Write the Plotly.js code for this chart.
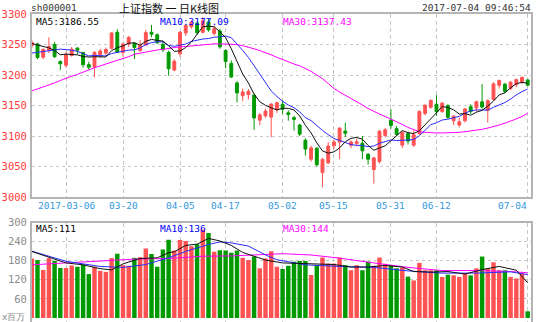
<!DOCTYPE html>
<html>
<head>
<meta charset="utf-8">
<script src="https://cdn.plot.ly/plotly-3.0.1.min.js"></script>
<style>
html,body{margin:0;padding:0;background:#fff;}
#chart{width:549px;height:322px;}
</style>
</head>
<body>
<div id="chart"></div>
<script>
// ---------------- data ----------------
const dates = [
 "2017-02-24","2017-02-27","2017-02-28","2017-03-01","2017-03-02","2017-03-03",
 "2017-03-06","2017-03-07","2017-03-08","2017-03-09","2017-03-10",
 "2017-03-13","2017-03-14","2017-03-15","2017-03-16","2017-03-17",
 "2017-03-20","2017-03-21","2017-03-22","2017-03-23","2017-03-24",
 "2017-03-27","2017-03-28","2017-03-29","2017-03-30","2017-03-31",
 "2017-04-05","2017-04-06","2017-04-07",
 "2017-04-10","2017-04-11","2017-04-12","2017-04-13","2017-04-14",
 "2017-04-17","2017-04-18","2017-04-19","2017-04-20","2017-04-21",
 "2017-04-24","2017-04-25","2017-04-26","2017-04-27","2017-04-28",
 "2017-05-02","2017-05-03","2017-05-04","2017-05-05",
 "2017-05-08","2017-05-09","2017-05-10","2017-05-11","2017-05-12",
 "2017-05-15","2017-05-16","2017-05-17","2017-05-18","2017-05-19",
 "2017-05-22","2017-05-23","2017-05-24","2017-05-25","2017-05-26",
 "2017-05-31","2017-06-01","2017-06-02",
 "2017-06-05","2017-06-06","2017-06-07","2017-06-08","2017-06-09",
 "2017-06-12","2017-06-13","2017-06-14","2017-06-15","2017-06-16",
 "2017-06-19","2017-06-20","2017-06-21","2017-06-22","2017-06-23",
 "2017-06-26","2017-06-27","2017-06-28","2017-06-29","2017-06-30",
 "2017-07-03","2017-07-04"
];
const openP = [3248,3251,3229,3240,3250,3222,
 3216,3232,3244,3237,3217, 3213,3233,3236,3244,3270, 3237,3251,3252,3240,3249,
 3270,3266,3250,3237,3208, 3235,3269,3279, 3285,3270,3287,3268,3272,
 3240,3219,3187,3166,3168, 3167,3126,3133,3131,3143, 3152,3138,3130,3118,
 3093,3062,3080,3040,3056, 3084,3090,3108,3085,3088, 3088,3070,3045,3058,3101,
 3126,3112,3085, 3104,3085,3104,3137,3147, 3152,3140,3150,3125,3118,
 3125,3148,3146,3156,3142, 3160,3183,3185,3178,3184, 3189,3192];
const highP = [3258,3253,3244,3262,3254,3224,
 3238,3246,3246,3238,3222, 3239,3243,3245,3270,3275, 3253,3264,3254,3257,3274,
 3282,3268,3256,3240,3226, 3272,3284,3290, 3288,3295,3292,3281,3276,
 3242,3224,3190,3178,3177, 3169,3138,3145,3154,3156, 3158,3142,3133,3120,
 3096,3084,3082,3064,3090, 3094,3114,3122,3093,3096, 3100,3072,3066,3110,3113,
 3144,3116,3108, 3106,3109,3142,3152,3160, 3167,3156,3152,3134,3130,
 3146,3152,3158,3185,3160, 3188,3192,3187,3190,3194, 3198,3193];
const lowP = [3244,3226,3226,3236,3228,3208,
 3212,3230,3234,3212,3208, 3196,3228,3232,3242,3236, 3230,3246,3226,3238,3248,
 3262,3251,3238,3199,3206, 3230,3264,3276, 3266,3268,3271,3265,3243,
 3211,3195,3155,3157,3160, 3110,3118,3130,3098,3138, 3136,3125,3109,3100,
 3068,3058,3050,3016,3054, 3079,3062,3098,3080,3083, 3062,3053,3022,3055,3098,
 3112,3100,3080, 3086,3082,3102,3134,3145, 3133,3138,3128,3118,3114,
 3122,3136,3140,3145,3122, 3158,3178,3170,3175,3180, 3185,3182];
const closeP = [3253.43,3228.66,3241.73,3246.93,3230.03,3218.31,
 3233.87,3242.41,3240.66,3216.75,3212.76, 3237.02,3239.33,3241.76,3268.94,3237.45,
 3250.81,3261.61,3245.22,3248.55,3269.45, 3266.96,3252.95,3241.31,3210.24,3222.51,
 3270.05,3281.00,3286.62, 3269.39,3288.97,3273.83,3275.96,3246.07,
 3222.17,3196.71,3170.69,3172.17,3173.15, 3129.53,3134.57,3140.85,3152.19,3154.66,
 3143.71,3135.35,3127.37,3103.04, 3078.61,3080.53,3052.79,3061.50,3083.51,
 3090.23,3112.96,3104.44,3090.14,3090.63, 3075.68,3061.95,3064.08,3107.83,3110.06,
 3117.18,3102.62,3105.54, 3091.66,3102.10,3140.32,3150.33,3158.40,
 3139.88,3153.74,3130.67,3132.49,3123.17, 3144.37,3140.01,3156.21,3147.45,3157.87,
 3185.44,3191.20,3173.20,3188.06,3192.43, 3195.91,3183.15];

const ma5 = [3251.6,3249.4,3247.2,3244.4,3240.2,3233.2,
 3234.2,3234.2,3233.0,3230.4,3229.4, 3230.0,3229.4,3229.6,3240.0,3244.8,
 3247.6,3252.2,3252.8,3248.8,3255.2, 3258.4,3256.6,3255.8,3248.0,3238.8,
 3239.4,3245.0,3254.2, 3266.0,3279.2,3280.0,3279.0,3270.8,
 3261.4,3243.0,3222.4,3201.6,3187.0, 3168.6,3156.2,3150.2,3146.2,3142.6,
 3145.4,3145.4,3142.6,3132.8, 3117.6,3105.0,3088.6,3075.6,3071.8,
 3074.0,3080.4,3090.6,3096.2,3097.6, 3094.8,3084.6,3076.6,3080.2,3084.0,
 3092.2,3100.4,3108.8, 3105.6,3104.0,3108.6,3118.0,3128.4,
 3138.0,3148.4,3146.6,3143.0,3136.0, 3136.8,3134.0,3139.0,3142.0,3149.0,
 3157.2,3167.4,3170.8,3179.0,3185.8, 3188.0,3186.55];
const ma10 = [3236,3237,3238,3240,3241,3242.4,
 3241.8,3240.7,3238.7,3235.3,3231.3, 3232.1,3231.8,3231.3,3235.2,3237.1,
 3238.8,3240.8,3241.2,3244.4,3250.0, 3253.0,3254.4,3254.3,3248.4,3247.0,
 3248.9,3250.8,3255.0, 3257.0,3259.0,3259.7,3262.0,3262.5,
 3263.7,3261.1,3251.2,3240.3,3228.9, 3215.0,3199.6,3186.3,3173.9,3164.8,
 3157.0,3150.8,3146.4,3139.5, 3130.1,3125.2,3117.0,3109.1,3102.3,
 3095.8,3092.7,3089.6,3085.9,3084.7, 3084.4,3082.5,3083.6,3088.2,3090.8,
 3093.5,3092.5,3092.7, 3092.9,3094.0,3100.4,3109.2,3118.6,
 3121.8,3126.2,3127.6,3130.5,3132.2, 3137.4,3141.2,3142.8,3142.5,3142.5,
 3147.0,3150.7,3154.9,3160.5,3167.4, 3172.6,3177.09];
const ma30 = [3174,3177,3180,3184,3187,3191,
 3195,3198,3201,3205,3208, 3212,3215,3218,3220,3223,
 3226,3230,3234,3236,3238, 3240,3241,3242,3244,3245,
 3246,3247,3248, 3249,3250,3251,3251,3251,
 3251,3251,3250,3248,3246, 3243,3240,3237,3233,3229,
 3225,3222,3218,3215, 3211,3206,3200,3194,3186,
 3178,3172,3167,3162,3157, 3151,3145,3140,3136,3132,
 3128,3124,3119, 3114,3110,3107,3106,3105,
 3105,3105,3105,3106,3106, 3107,3108,3109,3111,3113,
 3115,3118,3121,3124,3128, 3132,3137.43];

const volume = [187,182,151,188,180,157,
 157,165,161,168,138, 161,148,145,188,202, 166,164,189,191,218,
 201,161,215,246,212, 245,242,225, 232,278,267,208,213,
 212,205,212,189,182, 193,156,187,210,161, 154,164,177,179,
 179,135,166,190,171, 171,190,166,150,166, 150,177,164,190,170,
 166,156,158, 130,118,173,150,150, 150,129,136,134,129,
 140,134,156,193,156, 175,150,150,129,124, 140,21];

const volMa5Dates = ["2017-02-24","2017-03-01","2017-03-06","2017-03-09","2017-03-14","2017-03-16",
 "2017-03-20","2017-03-23","2017-03-28","2017-03-30","2017-03-31","2017-04-06","2017-04-10",
 "2017-04-12","2017-04-14","2017-04-18","2017-04-20","2017-04-24","2017-04-26","2017-05-02",
 "2017-05-05","2017-05-10","2017-05-15","2017-05-18","2017-05-23","2017-05-26","2017-06-02",
 "2017-06-06","2017-06-09","2017-06-14","2017-06-19","2017-06-22","2017-06-27","2017-06-30","2017-07-04"];
const volMa5 = [209,190,173,167,155,151,170,187,189,205,208,228,232,250,242,228,206,194,182,173,
 172,170,168,160,160,165,160,146,144,146,138,152,162,150,111];
const volMa10Dates = ["2017-02-24","2017-03-06","2017-03-14","2017-03-20","2017-03-24","2017-03-30",
 "2017-04-06","2017-04-12","2017-04-14","2017-04-18","2017-04-21","2017-04-26","2017-04-28",
 "2017-05-08","2017-05-16","2017-05-24","2017-06-05","2017-06-13","2017-06-21","2017-06-29","2017-07-04"];
const volMa10 = [210,178,162,159,168,189,209,231,239,236,226,198,183,167,162,159,148,141,141,145,136];
const volMa30Dates = ["2017-02-24","2017-03-06","2017-03-14","2017-03-22","2017-03-30","2017-04-11",
 "2017-04-18","2017-04-25","2017-05-02","2017-05-09","2017-05-16","2017-05-24","2017-06-05",
 "2017-06-13","2017-06-21","2017-06-29","2017-07-04"];
const volMa30 = [167,173,178,185,187,194,195,199,202,198,188,173,159,149,149,146,142];

const tickDates = ["2017-03-06","2017-03-20","2017-04-05","2017-04-17","2017-05-02","2017-05-15","2017-05-31","2017-06-12","2017-07-04"];
const tickLabels = ["2017-03-06","03-20","04-05","04-17","05-02","05-15","05-31","06-12","07-04"];
const priceTicks = [3000,3050,3100,3150,3200,3250,3300];
const volTicks = [60,120,180,240,300];

const headerCode = "sh000001";
const headerTitle = "上证指数 一 日K线图";
const headerTime = "2017-07-04 09:46:54";
const priceLegend = ["MA5:3186.55","MA10:3177.09","MA30:3137.43"];
const volLegend = ["MA5:111","MA10:136","MA30:144"];
const volUnit = "x百万";

// ---------------- drawing ----------------
const W = 549, H = 322;
const px = x => x / W;
const py = y => 1 - y / H;
const RED = '#ff5252', GREEN = '#009a00';
const MONO = 'DejaVu Sans Mono, Liberation Mono, monospace';
const xr = [0.035, 87.58];

const barColors = closeP.map((c, i) => c >= openP[i] ? RED : GREEN);

const traces = [
 {type:'candlestick', x:dates, open:openP, high:highP, low:lowP, close:closeP,
  xaxis:'x', yaxis:'y', whiskerwidth:0, hoverinfo:'skip',
  increasing:{line:{color:RED, width:1}, fillcolor:RED},
  decreasing:{line:{color:GREEN, width:1}, fillcolor:GREEN}},
 {type:'scatter', mode:'lines', x:dates, y:ma30, xaxis:'x', yaxis:'y', line:{color:'#ff00ff', width:1}, hoverinfo:'skip'},
 {type:'scatter', mode:'lines', x:dates, y:ma10, xaxis:'x', yaxis:'y', line:{color:'#2b2bff', width:1}, hoverinfo:'skip'},
 {type:'scatter', mode:'lines', x:dates, y:ma5, xaxis:'x', yaxis:'y', line:{color:'#111111', width:1}, hoverinfo:'skip'},
 {type:'bar', x:dates, y:volume, xaxis:'x2', yaxis:'y2', marker:{color:barColors, line:{width:0}}, hoverinfo:'skip'},
 {type:'scatter', mode:'lines', x:volMa30Dates, y:volMa30, xaxis:'x2', yaxis:'y2', line:{color:'#ff00ff', width:1}, hoverinfo:'skip'},
 {type:'scatter', mode:'lines', x:volMa10Dates, y:volMa10, xaxis:'x2', yaxis:'y2', line:{color:'#2b2bff', width:1}, hoverinfo:'skip'},
 {type:'scatter', mode:'lines', x:volMa5Dates, y:volMa5, xaxis:'x2', yaxis:'y2', line:{color:'#111111', width:1}, hoverinfo:'skip'}
];

const xBase = {type:'category', categoryorder:'array', categoryarray:dates, range:xr,
  tickmode:'array', tickvals:tickDates, showticklabels:false, ticks:'',
  showgrid:true, gridcolor:'#c6c6c6', gridwidth:1, griddash:'4px,3px',
  showline:true, mirror:true, linecolor:'#b4b4b4', linewidth:2, zeroline:false, fixedrange:true};

const annotations = [];
const addText = (text, x, y, anchor, size, color, family, xref) => annotations.push({
  text, x, y, xref: xref || 'paper', yref:'paper', xanchor:anchor, yanchor:'middle',
  showarrow:false, font:{family: family || MONO, size, color}, borderpad:0
});
addText(headerCode, px(30), py(7.5), 'left', 9.5, '#333', MONO);
addText(headerTitle, px(169), py(8.1), 'center', 11, '#111', 'Noto Sans CJK SC');
addText(headerTime, px(532), py(7.5), 'right', 9.5, '#333', MONO);
const legX = [px(35), px(159), px(282)];
const legC = ['#000000', '#0000ff', '#ff00ff'];
priceLegend.forEach((t, i) => addText(t, legX[i], py(21.8), 'left', 9.5, legC[i]));
volLegend.forEach((t, i) => addText(t, legX[i], py(229), 'left', 9.5, legC[i]));
tickLabels.forEach((t, i) => {
  const last = i === tickLabels.length - 1;
  addText(t, tickDates[i], py(205.5), last ? 'right' : 'center', 9.5, '#3399dd', MONO, 'x');
});
addText(volUnit, px(1), py(317), 'left', 9, '#888', MONO);

const layout = {
  width:W, height:H, margin:{l:0, r:0, t:0, b:0},
  paper_bgcolor:'#ffffff', plot_bgcolor:'#ffffff', showlegend:false,
  boxgap:0.28, bargap:0.22, hovermode:false,
  xaxis:Object.assign({}, xBase, {domain:[px(32), px(531)], anchor:'y', rangeslider:{visible:false}}),
  yaxis:{domain:[py(197), py(14)], range:[3000, 3300], anchor:'x',
    tickmode:'array', tickvals:priceTicks, ticks:'', ticklabelstandoff:1,
    tickfont:{family:MONO, size:10.5, color:'#ff3c3c'},
    showgrid:true, gridcolor:'#c8c8c8', griddash:'dot', gridwidth:1,
    showline:true, mirror:true, linecolor:'#b4b4b4', linewidth:2, zeroline:false, fixedrange:true},
  xaxis2:Object.assign({}, xBase, {domain:[px(32), px(531)], anchor:'y2'}),
  yaxis2:{domain:[0, py(222.5)], range:[-12.6, 300], anchor:'x2',
    tickmode:'array', tickvals:volTicks, ticks:'', ticklabelstandoff:1,
    tickfont:{family:MONO, size:10.5, color:'#8c8c8c'},
    showgrid:true, gridcolor:'#c8c8c8', griddash:'dot', gridwidth:1,
    showline:true, mirror:true, linecolor:'#b4b4b4', linewidth:2, zeroline:false, fixedrange:true},
  annotations
};

Plotly.newPlot('chart', traces, layout, {staticPlot:true, displayModeBar:false});
</script>
</body>
</html>
